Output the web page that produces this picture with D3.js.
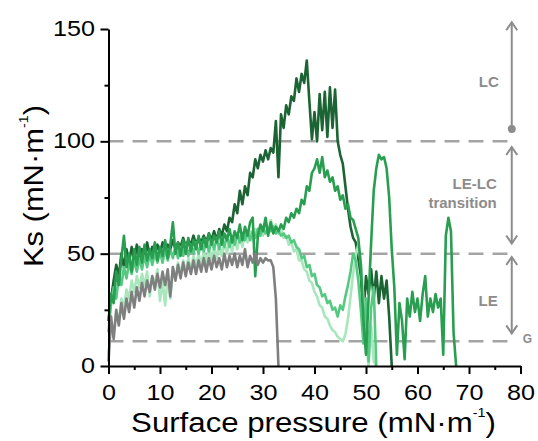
<!DOCTYPE html>
<html><head><meta charset="utf-8">
<script src="https://cdn.jsdelivr.net/npm/d3@7"></script>
<style>body{margin:0;background:#fff}svg{display:block}</style>
</head><body>
<svg id="c" width="538" height="441"></svg>
<script>
// Traces sampled every 0.5 mN/m of surface pressure, starting at 0
const xStep = 0.5;
const grayKs = [2,22,12,25,18,28,21,30,24,33, 26,35,29,37,31,38,33,40,34,41, 35,42,36,43,31,44,38,45,39,46,
  40,46,41,47,41,47,42,48,42,48, 43,49,44,48,43,50,44,49,45,50, 44,49,45,52,44,49,46,50,45,48, 46,48,47,47,44,30,0];
const darkKs = [20,30,38,45,40,50,44,52,46,53, 47,54,48,52,47,55,49,53,50,54, 50,55,51,54,52,56,52,55,53,57,
  53,56,54,58,54,57,55,58,55,59, 56,60,56,61,58,63,60,66,64,72, 68,78,72,80,76,86,84,92,88,94,
  91,96,92,97,95,109,84,112,106,116, 112,120,118,128,122,130,126,136,118,101, 113,100,121,105,122,102,124,106,123,100,
  94,90,80,70,62,57,55,48,40,22, 40,32,43,30,42,28,40,30,38,22, 0];
const mediumKs = [20,32,28,42,36,48,58,44,50,42, 52,45,53,46,54,47,52,48,55,47, 53,49,56,48,54,64,50,55,49,56,
  50,57,51,56,52,58,52,57,53,59, 54,58,55,60,54,59,56,61,55,60, 57,63,56,62,58,64,66,40,58,63,
  60,66,58,64,59,62,60,63,61,66, 64,68,66,70,68,74,72,80,78,86, 88,92,86,93,84,87,82,84,78,80,
  74,76,70,72,66,65,61,57,45,20, 5,30,55,78,88,94,92,93,88,75, 52,35,5,28,20,3,30,22,33,24,
  30,20,32,40,22,30,24,32,26,30, 5,58,66,60,15,0];
const lightKs = [15,28,35,30,40,36,44,39,46,41, 47,42,48,43,49,44,50,45,50,46, 51,46,52,47,52,48,53,48,53,49,
  54,49,54,50,55,50,55,51,56,51, 56,52,57,52,57,53,58,53,58,54, 59,55,59,56,60,56,60,57,61,58,
  62,59,61,60,62,59,60,58,59,57, 58,55,56,53,52,48,49,44,45,40, 41,36,35,31,32,28,29,25,26,22,
  27,25,31,36,42,50,47,38,25,10, 30,2,26,35,0];
const palestKs = [5,18,14,24,20,30,26,34,30,38, 33,40,35,41,36,42,31,40,36,43, 29,38,27,40,30,44,39,46,41,47,
  42,48,43,49,44,50,45,51,46,52, 47,53,48,54,49,55,50,56,51,57, 52,58,53,59,55,60,56,61,57,62,
  58,64,60,65,61,63,59,61,57,58, 54,55,51,52,47,47,43,42,38,37, 33,31,27,26,22,21,18,16,15,13,
  12,11,14,21,31,41,49,54,46,30, 12,0,18,2,0];

const xTicks = [0,10,20,30,40,50,60,70,80];
const xMinorTicks = [5,15,25,35,45,55,65,75];
const yTicks = [0,50,100,150];
const yMinorTicks = [25,75,125];
const phaseBoundaries = [100, 50, 11];           // Ks values of dashed lines
const phaseSpans = [[105.5,153],[54.5,97.5],[14.5,48.5]]; // Ks ranges of the arrows
const phaseMarkerX = 78.3;                        // surface pressure where arrows sit

const svg = d3.select('#c');
const FONT = "'Liberation Sans', Arial, sans-serif";
const x = d3.scaleLinear().domain([0,80]).range([108.5,520.5]);
const y = d3.scaleLinear().domain([0,150]).range([366,29]);
const annColor = '#8c8c8c';

// dashed phase boundaries
svg.append('g').selectAll('line').data(phaseBoundaries).join('line')
  .attr('x1', x(0)).attr('x2', x(phaseMarkerX))
  .attr('y1', d => y(d)).attr('y2', d => y(d))
  .attr('stroke', '#a3a3a3').attr('stroke-width', 2.5).attr('stroke-dasharray', '15,9');

// traces
const series = [
  {values: darkKs, color: '#1c6434'},
  {values: palestKs, color: '#a8e6bc'},
  {values: lightKs, color: '#55c982'},
  {values: mediumKs, color: '#2a9e50'},
  {values: grayKs, color: '#7f7f7f'}
];
const line = d3.line().x((d,i) => x(i*xStep)).y(d => y(d));
svg.append('g').selectAll('path').data(series).join('path')
  .attr('d', d => line(d.values)).attr('fill','none')
  .attr('stroke', d => d.color).attr('stroke-width', 2.6)
  .attr('stroke-linejoin','round');

// axes
function styleAxis(g){
  g.attr('font-family', FONT).attr('font-size', 22);
  g.selectAll('.domain').attr('stroke','#000').attr('stroke-width',2);
  g.selectAll('.tick line').attr('stroke','#000').attr('stroke-width',2);
  g.selectAll('.tick text').attr('fill','#000')
    .attr('textLength', function(){ return this.textContent.length*14; })
    .attr('lengthAdjust','spacingAndGlyphs');
}
const gx = svg.append('g').attr('transform', `translate(0,${y(0)})`);
gx.call(d3.axisBottom(x).tickValues(xMinorTicks).tickSize(4).tickSizeOuter(0).tickFormat(''));
gx.call(g => g.select('.domain').remove());
const gx2 = svg.append('g').attr('transform', `translate(0,${y(0)})`)
  .call(d3.axisBottom(x).tickValues(xTicks).tickSize(8).tickSizeOuter(0).tickPadding(10.5).tickFormat(d3.format('d')));
styleAxis(gx); styleAxis(gx2);

const gy = svg.append('g').attr('transform', `translate(${x(0)},0)`);
gy.call(d3.axisLeft(y).tickValues(yMinorTicks).tickSize(4).tickSizeOuter(0).tickFormat(''));
gy.call(g => g.select('.domain').remove());
const gy2 = svg.append('g').attr('transform', `translate(${x(0)},0)`)
  .call(d3.axisLeft(y).tickValues(yTicks).tickSize(8).tickSizeOuter(0).tickPadding(5.5).tickFormat(d3.format('d')));
styleAxis(gy); styleAxis(gy2);
gy2.selectAll('.tick text').attr('dy','0.29em');

// axis titles (stretched horizontally to the reference's width)
function title(main, tx, ty, rot, target){
  const t = svg.append('text').attr('font-family', FONT).attr('font-size', 28)
    .attr('fill','#000').attr('text-anchor','middle');
  t.append('tspan').text(main);
  t.append('tspan').attr('font-size', 13).attr('dy', -15).text('-1');
  t.append('tspan').attr('dy', 15).text(')');
  const w = t.node().getBBox().width;
  t.attr('transform', `translate(${tx},${ty}) rotate(${rot}) scale(${target/w},1)`);
}
title('Surface pressure (mN·m', (x(0)+x(80))/2 - 1, 432, 0, 365);
title('Ks (mN·m', 43, 186, -90, 162);

// phase arrows
const ax = x(phaseMarkerX);
const ann = svg.append('g').attr('stroke', annColor).attr('stroke-width', 2).attr('fill','none');
phaseSpans.forEach(([lo, hi], i) => {
  ann.append('line').attr('x1', ax).attr('x2', ax).attr('y1', y(lo)).attr('y2', y(hi));
  const top = y(hi);
  ann.append('path').attr('d', `M${ax-5.5},${top+8}L${ax},${top}L${ax+5.5},${top+8}`);
  if (i === 0) {
    svg.append('circle').attr('cx', ax).attr('cy', y(lo)).attr('r', 4).attr('fill', annColor);
  } else {
    const bot = y(lo);
    ann.append('path').attr('d', `M${ax-5.5},${bot-8}L${ax},${bot}L${ax+5.5},${bot-8}`);
  }
});

// phase labels
const lab = svg.append('g').attr('font-family', FONT).attr('font-weight','bold')
  .attr('font-size', 15).attr('fill', annColor).attr('text-anchor','end');
lab.append('text').attr('x', ax-13).attr('y', y(124.2)).text('LC');
lab.append('text').attr('x', ax-15).attr('y', y(78.8)).text('LE-LC');
lab.append('text').attr('x', ax-15).attr('y', y(70.3)).text('transition');
lab.append('text').attr('x', ax-14).attr('y', y(26.9)).text('LE');
svg.append('text').attr('x', ax+11).attr('y', y(10.2)).attr('font-family', FONT)
  .attr('font-weight','bold').attr('font-size', 12).attr('fill', annColor).text('G');
</script>
</body></html>
